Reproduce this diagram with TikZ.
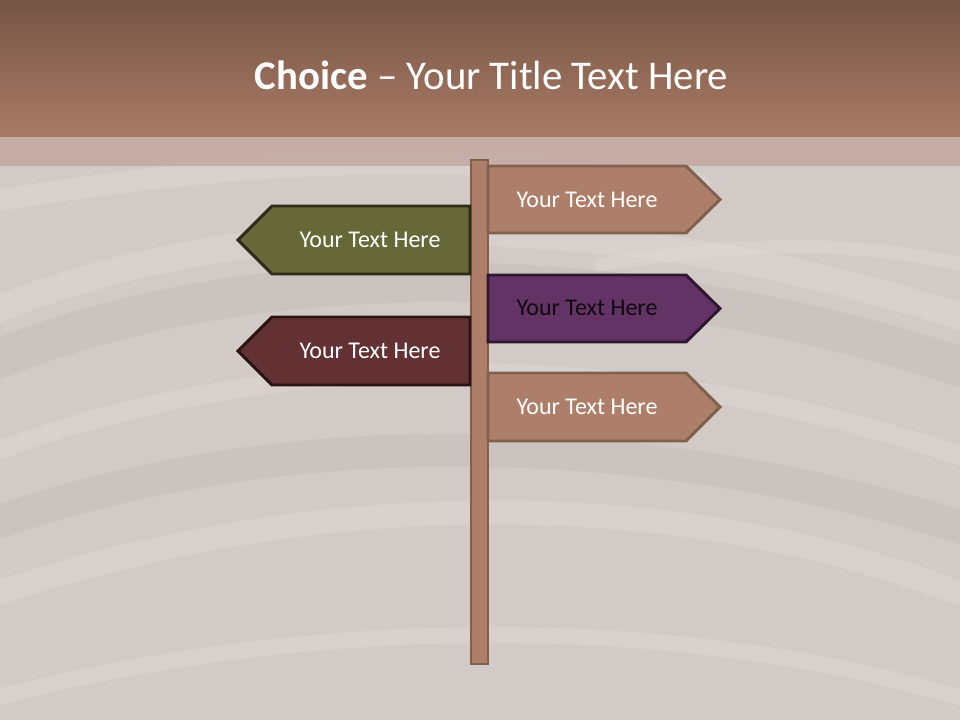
\documentclass[tikz,border=0pt]{standalone}
\usepackage{fontspec}
\setmainfont{Carlito}
\begin{document}
\begin{tikzpicture}[x=0.75pt,y=-0.75pt,
  signtext/.style={font=\fontsize{18pt}{21pt}\selectfont, text=white, inner sep=0pt},
  tanfill/.style={fill=signtan, draw=signtanedge, line width=2.2pt, line join=miter},
  greenfill/.style={fill=signgreen, draw=signgreenedge, line width=2.2pt},
  purplefill/.style={fill=signpurple, draw=signpurpleedge, line width=2.2pt},
  redfill/.style={fill=signred, draw=signrededge, line width=2.2pt},
  swirl/.style={white, opacity=0.12, line cap=round},
  darkswirl/.style={black, opacity=0.03, line cap=round}]
\definecolor{bg}{HTML}{D2CAC6}
\definecolor{bandtop}{HTML}{765545}
\definecolor{bandbot}{HTML}{A97B66}
\definecolor{band2}{HTML}{C3A9A1}
\definecolor{signtan}{HTML}{AD7F6A}
\definecolor{signtanedge}{HTML}{80604F}
\definecolor{signgreen}{HTML}{666837}
\definecolor{signgreenedge}{HTML}{2E2C19}
\definecolor{signpurple}{HTML}{633366}
\definecolor{signpurpleedge}{HTML}{2E172F}
\definecolor{signred}{HTML}{633133}
\definecolor{signrededge}{HTML}{2A1414}
\useasboundingbox (0,0) rectangle (960,720);
% background
\fill[bg] (0,0) rectangle (960,720);
\begin{scope}
\clip (0,0) rectangle (960,720);
\draw[darkswirl, line width=30pt] (-50,380) .. controls (200,260) and (600,240) .. (1000,380);
\draw[darkswirl, line width=25pt] (-50,540) .. controls (250,420) and (650,420) .. (1000,540);
\draw[swirl, line width=20pt] (-50,330) .. controls (200,210) and (600,190) .. (1000,330);
\draw[swirl, line width=14pt] (-50,470) .. controls (250,340) and (650,340) .. (1000,470);
\draw[swirl, line width=18pt] (-50,610) .. controls (300,480) and (700,480) .. (1000,610);
\draw[swirl, line width=12pt] (-50,710) .. controls (300,610) and (700,610) .. (1000,710);
\draw[swirl, line width=16pt] (0,200) .. controls (250,160) and (450,150) .. (700,185);
\draw[swirl, line width=10pt] (600,265) .. controls (780,235) and (900,245) .. (1000,275);
\end{scope}
% title band
\shade[top color=bandtop, bottom color=bandbot] (0,0) rectangle (960,137);
\fill[band2, opacity=0.85] (0,137) rectangle (960,166);
\node[font=\fontsize{30.6pt}{36pt}\selectfont, text=white, anchor=center] (title) at (491.5,75) {\textbf{Choice} -- Your Title Text Here};
% pole
\draw[tanfill, line width=2pt] (471,160) rectangle (488,664);
% right signs
\draw[tanfill] (488,166) -- (686,166) -- (720,199.5) -- (686,233) -- (488,233) -- cycle;
\draw[purplefill] (488,275) -- (686,275) -- (720,308.5) -- (686,342) -- (488,342) -- cycle;
\draw[tanfill] (488,373) -- (686,373) -- (720,407) -- (686,441) -- (488,441) -- cycle;
% left signs
\draw[greenfill] (470,206) -- (272,206) -- (238,240) -- (272,274) -- (470,274) -- cycle;
\draw[redfill] (470,317) -- (272,317) -- (238,351) -- (272,385) -- (470,385) -- cycle;
% texts
\node[signtext] (t1) at (587,200) {Your Text Here};
\node[signtext] (t2) at (370,240) {Your Text Here};
\node[signtext, text=black!85!signpurple] (t3) at (587,308) {Your Text Here};
\node[signtext] (t4) at (370,351) {Your Text Here};
\node[signtext] (t5) at (587,407) {Your Text Here};
\end{tikzpicture}
\end{document}
